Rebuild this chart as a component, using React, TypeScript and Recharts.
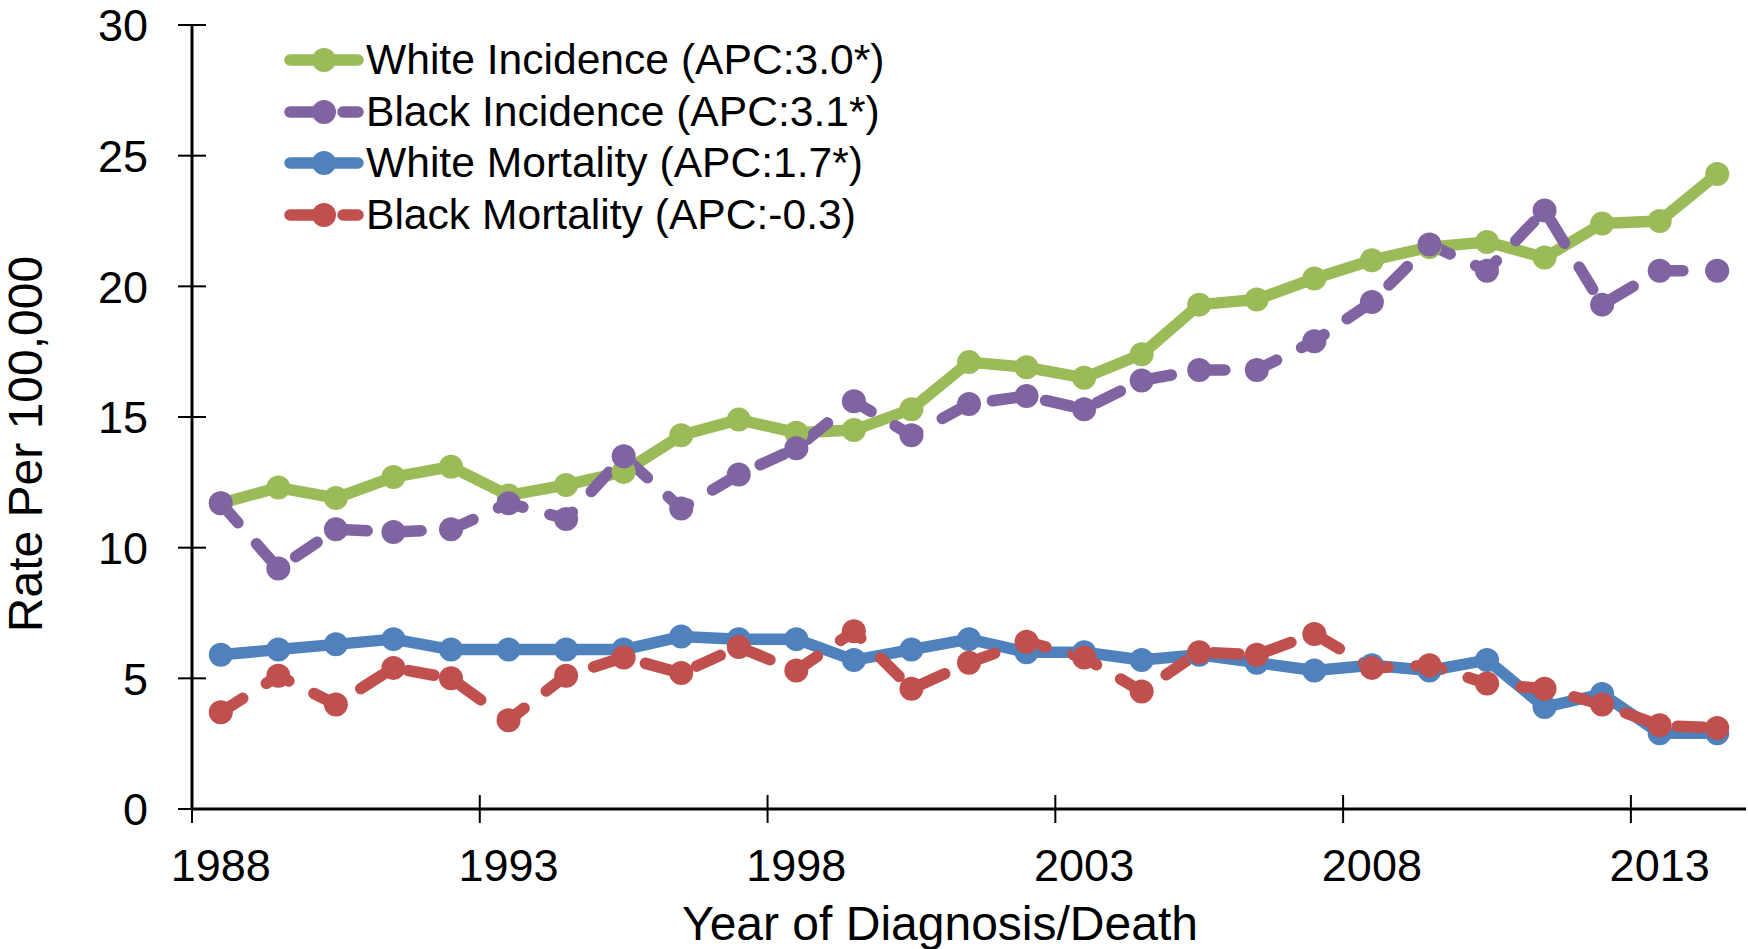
import { LineChart, Line, XAxis, YAxis, Legend, Label } from "recharts";

const years = [
  1988, 1989, 1990, 1991, 1992, 1993, 1994, 1995, 1996, 1997, 1998, 1999, 2000, 2001,
  2002, 2003, 2004, 2005, 2006, 2007, 2008, 2009, 2010, 2011, 2012, 2013, 2014,
];
const whiteIncidence = [
  11.7, 12.3, 11.9, 12.7, 13.1, 12.0, 12.4, 12.9, 14.3, 14.9, 14.4, 14.5, 15.3, 17.1,
  16.9, 16.5, 17.4, 19.3, 19.5, 20.3, 21.0, 21.5, 21.7, 21.1, 22.4, 22.5, 24.3,
];
const blackIncidence = [
  11.7, 9.2, 10.7, 10.6, 10.7, 11.7, 11.1, 13.5, 11.5, 12.8, 13.8, 15.6, 14.3, 15.5,
  15.8, 15.3, 16.4, 16.8, 16.8, 17.9, 19.4, 21.6, 20.6, 22.9, 19.3, 20.6, 20.6,
];
const whiteMortality = [
  5.9, 6.1, 6.3, 6.5, 6.1, 6.1, 6.1, 6.1, 6.6, 6.5, 6.5, 5.7, 6.1, 6.5,
  6.0, 6.0, 5.7, 5.9, 5.6, 5.3, 5.5, 5.3, 5.7, 3.9, 4.4, 2.9, 2.9,
];
const blackMortality = [
  3.7, 5.1, 4.0, 5.4, 5.0, 3.4, 5.1, 5.8, 5.2, 6.2, 5.3, 6.8, 4.6, 5.6,
  6.4, 5.8, 4.5, 6.0, 5.9, 6.7, 5.4, 5.5, 4.8, 4.6, 4.0, 3.2, 3.1,
];

// tick marks sit on category boundaries, labels every 5 years
const xTickMarks = [1987.5, 1992.5, 1997.5, 2002.5, 2007.5, 2012.5];
const yTicks = [0, 5, 10, 15, 20, 25, 30];

const series = [
  { key: "wi", name: "White Incidence (APC:3.0*)", color: "#9BBB59", dashed: false },
  { key: "bi", name: "Black Incidence (APC:3.1*)", color: "#8064A2", dashed: true },
  { key: "wm", name: "White Mortality (APC:1.7*)", color: "#4F81BD", dashed: false },
  { key: "bm", name: "Black Mortality (APC:-0.3)", color: "#C0504D", dashed: true },
];

const data = years.map((year, i) => ({
  year,
  wi: whiteIncidence[i],
  bi: blackIncidence[i],
  wm: whiteMortality[i],
  bm: blackMortality[i],
}));

const FONT = "'Liberation Sans', Arial, sans-serif";
const W = 1748;
const H = 949;
const LEFT = 192;
const RIGHT = 2;
const STEP = (W - LEFT - RIGHT) / years.length;
const DASH = "26 28";
const LW = 11.5;
const R = 12;

function YTick(props: any) {
  const { x, y, payload } = props;
  return (
    <g>
      <line x1={x - 14} x2={x + 14} y1={y} y2={y} stroke="#000" strokeWidth={2} />
      <text x={x - 44} y={y} dy="0.36em" textAnchor="end" fontSize={45} fontFamily={FONT} fill="#000">
        {payload.value}
      </text>
    </g>
  );
}

function XTick(props: any) {
  const { x, y, payload } = props;
  return (
    <g>
      <line x1={x} x2={x} y1={y - 14} y2={y + 14} stroke="#000" strokeWidth={2} />
      <text x={x + STEP / 2} y={y + 72} textAnchor="middle" fontSize={45} fontFamily={FONT} fill="#000">
        {payload.value + 0.5}
      </text>
    </g>
  );
}

function LegendBox(props: any) {
  const items = props.payload || [];
  return (
    <div style={{ fontFamily: FONT, fontSize: 42.6, color: "#000" }}>
      {series.map((s) => {
        const it = items.find((p: any) => p.dataKey === s.key);
        return (
          <div key={s.key} style={{ display: "flex", alignItems: "center", height: 51.7, lineHeight: "51.7px", whiteSpace: "nowrap" }}>
            <svg width={82} height={30} style={{ display: "block" }}>
              {s.dashed ? (
                <>
                  <line x1={6} x2={34} y1={15} y2={15} stroke={s.color} strokeWidth={LW} strokeLinecap="round" />
                  <line x1={59} x2={74} y1={15} y2={15} stroke={s.color} strokeWidth={LW} strokeLinecap="round" />
                </>
              ) : (
                <line x1={6} x2={74} y1={15} y2={15} stroke={s.color} strokeWidth={LW} strokeLinecap="round" />
              )}
              <circle cx={40} cy={15} r={R} fill={s.color} />
            </svg>
            <span>{it ? it.value : s.name}</span>
          </div>
        );
      })}
    </div>
  );
}

export default function App() {
  return (
    <div style={{ position: "absolute", left: 0, top: 0, width: W, height: H, background: "#fff" }}>
      <LineChart width={W} height={H} data={data} margin={{ top: 25, right: RIGHT, bottom: 0, left: 0 }}>
        <XAxis
          dataKey="year"
          type="number"
          domain={[1987.5, 2014.5]}
          ticks={xTickMarks}
          interval={0}
          height={140}
          tickSize={0}
          tickMargin={0}
          tickLine={false}
          axisLine={{ stroke: "#000", strokeWidth: 3 }}
          tick={<XTick />}
        >
          <Label
            content={() => (
              <text x={940} y={940} textAnchor="middle" fontSize={48} fontFamily={FONT} fill="#000">
                Year of Diagnosis/Death
              </text>
            )}
          />
        </XAxis>
        <YAxis
          type="number"
          domain={[0, 30]}
          ticks={yTicks}
          interval={0}
          width={LEFT}
          tickSize={0}
          tickMargin={0}
          tickLine={false}
          axisLine={{ stroke: "#000", strokeWidth: 3 }}
          tick={<YTick />}
        >
          <Label
            content={() => (
              <text
                x={42}
                y={444}
                transform="rotate(-90, 42, 444)"
                textAnchor="middle"
                fontSize={48}
                fontFamily={FONT}
                fill="#000"
              >
                Rate Per 100,000
              </text>
            )}
          />
        </YAxis>
        <Legend
          layout="vertical"
          align="center"
          verticalAlign="middle"
          wrapperStyle={{ left: 284, top: 34, width: 700, height: 220 }}
          content={<LegendBox />}
        />
        {series.map((s) => (
          <Line
            key={s.key}
            dataKey={s.key}
            name={s.name}
            stroke={s.color}
            strokeWidth={LW}
            strokeDasharray={s.dashed ? DASH : undefined}
            strokeLinecap="round"
            strokeLinejoin="round"
            dot={{ r: R, fill: s.color, stroke: "none", strokeDasharray: "none" }}
            activeDot={false}
            isAnimationActive={false}
          />
        ))}
      </LineChart>
    </div>
  );
}
